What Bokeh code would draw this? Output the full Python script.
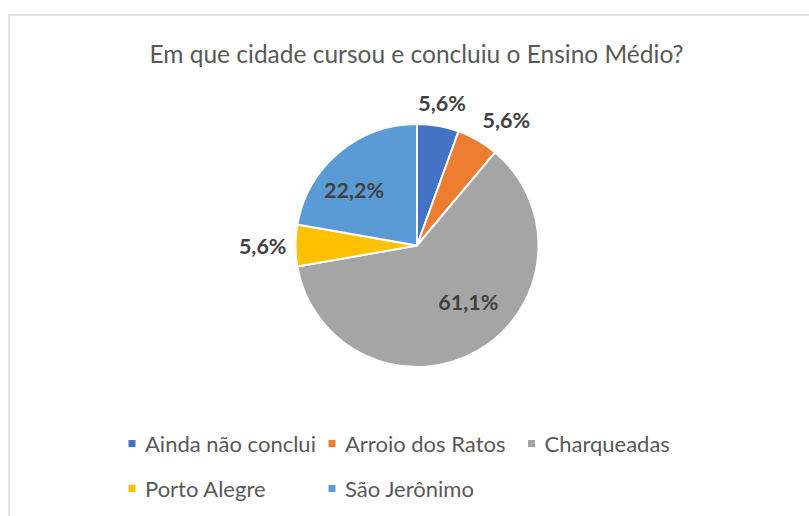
import math
from bokeh.plotting import figure
from bokeh.models import Range1d
from bokeh.core.properties import value
from bokeh.embed import file_html
from bokeh.resources import INLINE

# ---- data ----
categories = ["Ainda não conclui", "Arroio dos Ratos", "Charqueadas", "Porto Alegre", "São Jerônimo"]
counts = [1, 1, 11, 1, 4]
colors = ["#4472C4", "#ED7D31", "#A5A5A5", "#FFC000", "#5B9BD5"]
title_text = "Em que cidade cursou e concluiu o Ensino Médio?"

# ---- layout (pixel coords of the page, y measured from top) ----
W, H = 809, 516
PX0, PY0 = 0, 0
def Y(py):
    return (PY0 + H) - py

CX, CY, R = 416.5, 245.0, 121.5
LABEL_RFAC = [1.19, 1.27, 0.63, 1.27, 0.69]
LABEL_DANG = [0.0, -5.4, 12.0, 0.0, 8.7]
FONT = "Lato"

p = figure(width=W, height=H, x_range=Range1d(PX0, PX0 + W), y_range=Range1d(0, H),
           output_backend="svg", toolbar_location=None, min_border=0,
           x_axis_location=None, y_axis_location=None)
p.outline_line_color = None
p.grid.visible = False
p.background_fill_color = "white"
p.border_fill_color = "white"

# chart frame (cropped at right and bottom)
p.line([8.5, 8.5, PX0 + W], [Y(516), Y(14.5), Y(14.5)], line_color="#D9D9D9", line_width=1.5)

# title
p.text([416], [Y(53)], text=[title_text], text_align="center", text_baseline="middle",
       text_font=value(FONT), text_font_size="24.5px", text_color="#595959")

# pie
total = sum(counts)
cum = 0
starts, ends, mids = [], [], []
for c in counts:
    a0 = 90 - cum / total * 360
    cum += c
    a1 = 90 - cum / total * 360
    starts.append(math.radians(a0))
    ends.append(math.radians(a1))
    mids.append((a0 + a1) / 2)

p.wedge(x=[CX] * len(counts), y=[Y(CY)] * len(counts), radius=R,
        start_angle=starts, end_angle=ends, direction="clock",
        fill_color=colors, line_color="white", line_width=2)

# data labels
lx, ly, lt = [], [], []
for i, c in enumerate(counts):
    ang = math.radians(mids[i] + LABEL_DANG[i])
    r = R * LABEL_RFAC[i]
    lx.append(CX + r * math.cos(ang))
    ly.append(Y(CY) + r * math.sin(ang))
    lt.append(f"{c / total * 100:.1f}%".replace(".", ","))
p.text(lx, ly, text=lt, text_align="center", text_baseline="middle",
       text_font=value(FONT), text_font_size="21.5px", text_font_style="bold",
       text_color="#404040")

# legend
LEG_POS = [(131.5, 443), (331.5, 443), (531, 443), (131.5, 488), (331.5, 488)]
for i, name in enumerate(categories):
    mx, my = LEG_POS[i]
    p.scatter([mx], [Y(my)], marker="square", size=7, fill_color=colors[i], line_color=None)
    p.text([mx + 13], [Y(my)], text=[name], text_align="left", text_baseline="middle",
           text_font=value(FONT), text_font_size="22px", text_color="#595959")

open("out.html", "w").write(file_html(p, INLINE))
